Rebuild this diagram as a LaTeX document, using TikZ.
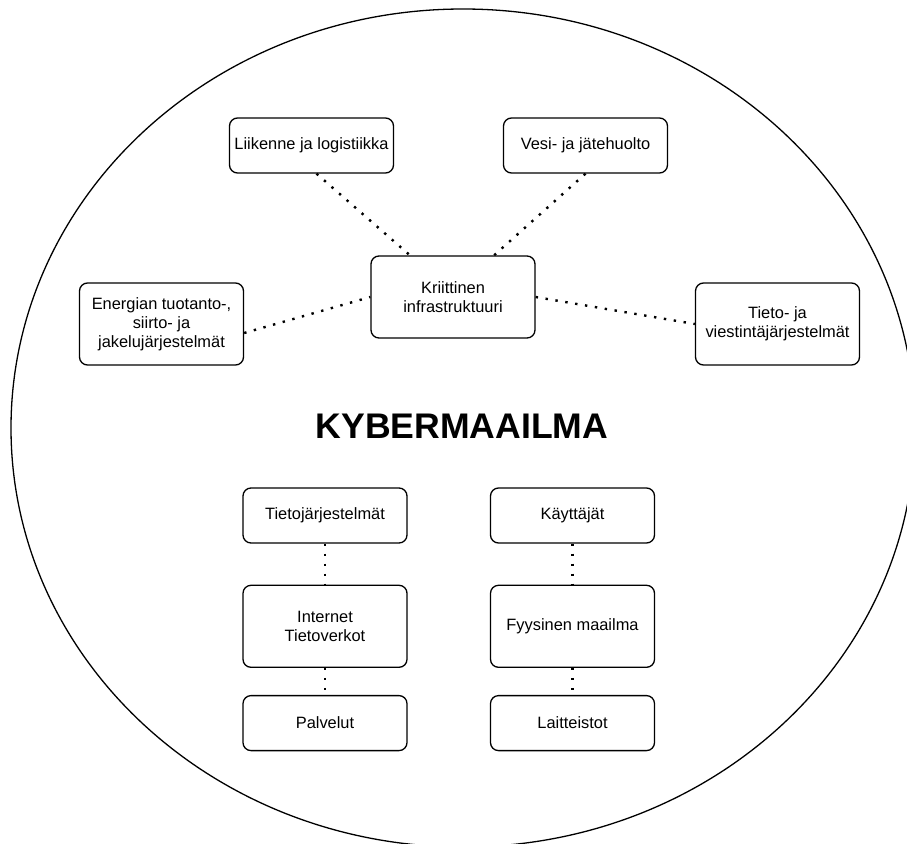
\documentclass[tikz,border=0pt]{standalone}
\usepackage{fontspec}
\setmainfont{Liberation Sans}
\usetikzlibrary{positioning}

\begin{document}
\begin{tikzpicture}[
  x=1pt,
  y=-1pt,
  box/.style={
    rectangle,
    rounded corners=8pt,
    draw=black,
    line width=1.3pt,
    align=center,
    inner sep=0pt,
    minimum width=164pt,
    minimum height=55pt,
    font=\fontsize{16.4}{19}\selectfont
  },
  tallbox/.style={
    box,
    minimum height=82pt
  },
  dotline/.style={
    line width=2.4pt,
    dash pattern=on 2.4pt off 7.6pt
  }]
  \useasboundingbox (0,0) rectangle (907,843);
  % the cyber world
  \draw[line width=1.3pt] (463,428) ellipse [x radius=452, y radius=419];
  \node[font=\fontsize{35.6}{40}\selectfont\bfseries] (kyber) at (462,426) {KYBERMAAILMA};
  % critical infrastructure
  \node[tallbox] (krit) at (453,297) {Kriittinen\\infrastruktuuri};
  \node[box] (liik) at (311.5,145.5) {Liikenne ja logistiikka};
  \node[box] (vesi) at (585.5,145.5) {Vesi- ja jätehuolto};
  \node[tallbox] (ener) at (161.5,324) {Energian tuotanto-,\\siirto- ja\\jakelujärjestelmät};
  \node[tallbox] (tiev) at (777.5,324) {Tieto- ja\\viestintäjärjestelmät};
  % lower columns
  \node[box] (tjarj) at (325,515.5) {Tietojärjestelmät};
  \node[tallbox, below=41pt of tjarj] (inet) {Internet\\Tietoverkot};
  \node[box, below=27pt of inet] (palv) {Palvelut};
  \node[box] (kayt) at (572.5,515.5) {Käyttäjät};
  \node[tallbox, below=41pt of kayt] (fyys) {Fyysinen maailma};
  \node[box, below=27pt of fyys] (lait) {Laitteistot};
  \begin{scope}
  \draw[dotline] ([xshift=5pt]liik.south) -- ([xshift=-43pt]krit.north);
  \draw[dotline] (vesi.south) -- ([xshift=41pt]krit.north);
  \draw[dotline] ([yshift=-9pt]ener.east) -- (krit.west);
  \draw[dotline] (krit.east) -- (tiev.west);
  \draw[dotline] (tjarj.south) -- (inet.north);
  \draw[dotline] (inet.south) -- (palv.north);
  \draw[dotline] (kayt.south) -- (fyys.north);
  \draw[dotline] (fyys.south) -- (lait.north);
  \end{scope}
\end{tikzpicture}
\end{document}
